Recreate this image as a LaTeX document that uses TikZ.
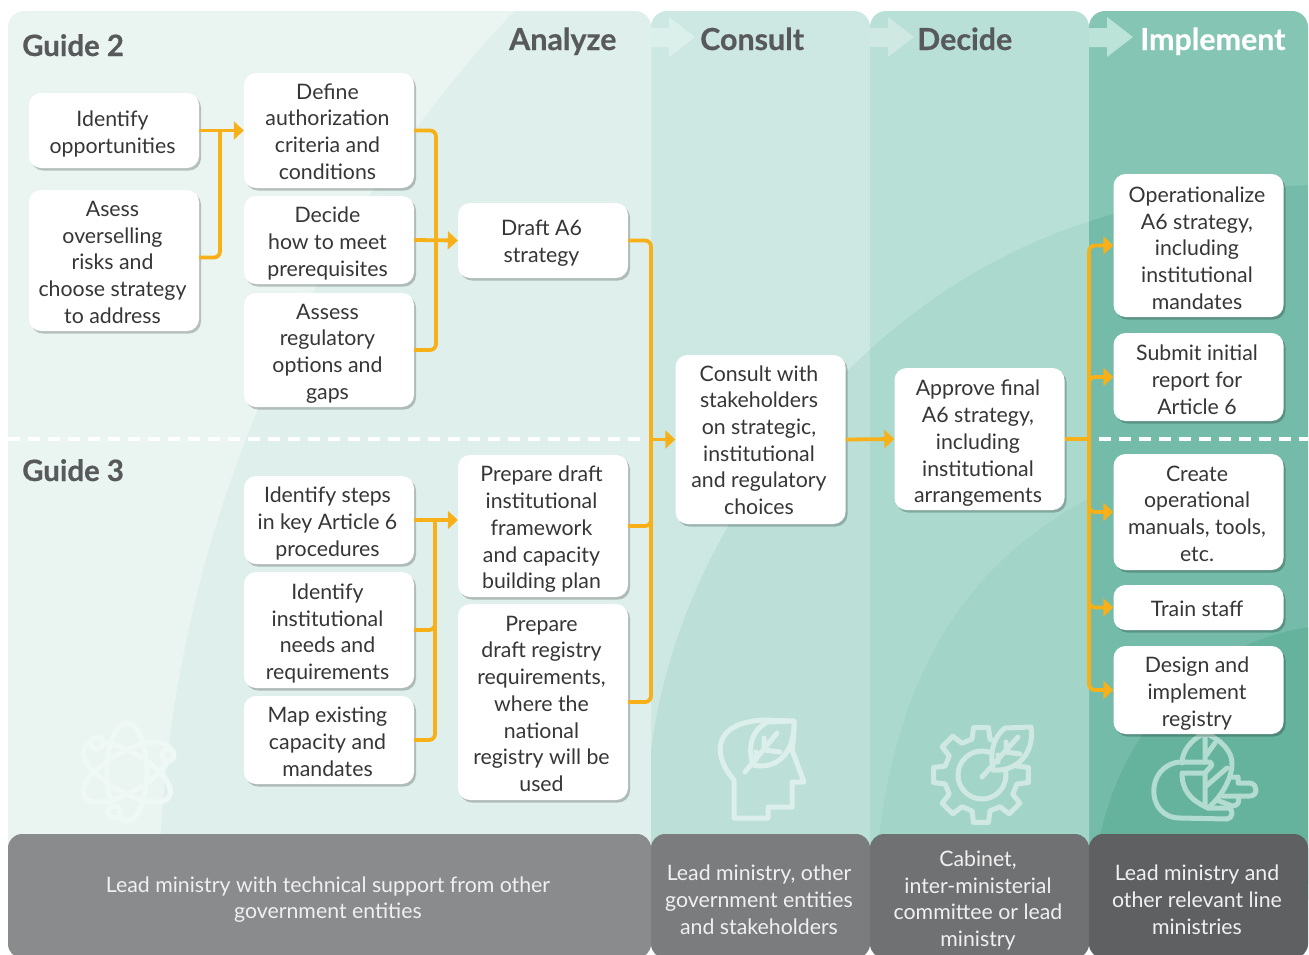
\documentclass[tikz,border=0pt]{standalone}
\usepackage{fontspec}
\setmainfont{Lato}
\newfontfamily\headFont[BoldFeatures={FakeBold=0.5}]{Lato}
\usetikzlibrary{arrows.meta,shadows}

\definecolor{flowOrange}{HTML}{F7B017}
\definecolor{textDark}{HTML}{363636}
\definecolor{headGrey}{HTML}{58595B}
\definecolor{analyzeA}{HTML}{EAF5F2}
\definecolor{analyzeB}{HTML}{DFF0EC}
\definecolor{consultA}{HTML}{CDE8E2}
\definecolor{consultB}{HTML}{BCE0D8}
\definecolor{decideA}{HTML}{B8E0D6}
\definecolor{decideB}{HTML}{ABD9CE}
\definecolor{decideC}{HTML}{A3D4C8}
\definecolor{implementA}{HTML}{84C5B3}
\definecolor{implementB}{HTML}{74BCA9}
\definecolor{implementC}{HTML}{65B29D}
\definecolor{chevConsult}{HTML}{DCF0EB}
\definecolor{chevDecide}{HTML}{CFE9E2}
\definecolor{chevImplement}{HTML}{BCE3D7}
\definecolor{ownerAnalyze}{HTML}{8A8B8D}
\definecolor{ownerConsult}{HTML}{7B7C7E}
\definecolor{ownerDecide}{HTML}{707173}
\definecolor{ownerImplement}{HTML}{5F6062}
\definecolor{iconAtom}{HTML}{EFF8F5}
\definecolor{iconHead}{HTML}{DCEFEA}
\definecolor{iconGear}{HTML}{CFE8E1}
\definecolor{iconHand}{HTML}{B2DCCF}

\newcommand{\lowerText}[2]{\kern-1.5pt\raisebox{-#1pt}[\height][\depth]{\begin{tabular}{@{}c@{}}#2\end{tabular}}\kern1.5pt}

\begin{document}
\begin{tikzpicture}
[x=1pt,y=-1pt,
  nodeDecorate/.style={shape=rectangle,rounded corners=12pt,inner sep=0pt,fill=white,
    text=textDark,minimum width=170pt,
    font=\fontsize{21.3}{26.7}\selectfont,
    drop shadow={shadow xshift=2pt,shadow yshift=-2.5pt,fill=black,opacity=.22}},
  ownerDecorate/.style={shape=rectangle,rounded corners=14pt,inner sep=0pt,
    text=white!94!black,minimum height=124pt,
    font=\fontsize{21.3}{26.7}\selectfont},
  headDecorate/.style={anchor=base west,inner sep=0pt,text=headGrey,
    font=\fontsize{30.4}{32}\selectfont\headFont\bfseries},
  guideDecorate/.style={headDecorate,font=\fontsize{29.4}{32}\selectfont\headFont\bfseries},
  flowLine/.style={flowOrange,line width=3.8pt,rounded corners=6pt},
  flowArrow/.style={flowLine,-{Triangle[length=10pt,width=18pt]}},
  iconLine/.style={line width=5pt,line cap=round,line join=round}]
\useasboundingbox (0,0) rectangle (1309,954);
%% columns
\foreach \colname/\xa/\xb/\tone in {
  analyze/8/651/analyzeA, consult/651/870/consultA,
  decide/870/1089/decideA, implement/1089/1308/implementA}
{
  \fill[\tone,rounded corners=16pt] (\xa,11) rectangle (\xb,900);
}
%% curved bands
\begin{scope}
  \clip[rounded corners=16pt] (8,11) rectangle (651,900);
  \fill[analyzeB] (525,0) .. controls (330,200) and (160,520) .. (159,900) -- (700,900) -- (700,0) -- cycle;
\end{scope}
\foreach \xa/\xb/\tone in {651/870/consultB, 870/1089/decideB, 1089/1308/implementB}
{
  \begin{scope}
    \clip[rounded corners=16pt] (\xa,11) rectangle (\xb,900);
    \fill[\tone] (1320,185) .. controls (1100,190) and (960,260) .. (845,373)
      .. controls (740,480) and (660,620) .. (648,780) -- (648,900) -- (1320,900) -- cycle;
  \end{scope}
}
\begin{scope}
  \clip (870,11) rectangle (1089,900);
  \fill[decideC] (1095,495) .. controls (1000,545) and (885,640) .. (874,900) -- (1095,900) -- cycle;
\end{scope}
\begin{scope}
  \clip (1089,11) rectangle (1308,900);
  \fill[implementC] (1320,626) .. controls (1210,635) and (1100,730) .. (1091,900) -- (1320,900) -- cycle;
\end{scope}
%% arrows on the column heads
\foreach \xa/\tone in {651/chevConsult, 870/chevDecide, 1089/chevImplement}
{
  \fill[\tone,shift={(\xa,0)}] (0,28) -- (18,28) -- (18,17) -- (44,37) -- (18,57) -- (18,47) -- (0,47) -- cycle;
}
%% line between the guides
\foreach \xa/\xb in {8/646, 1099/1308}
{
  \draw[white,line width=4pt,dash pattern=on 12pt off 8pt] (\xa,439) -- (\xb,439);
}
%% icons
\foreach \ang in {30,90,150}
{
  \draw[iconAtom,iconLine,rotate around={\ang:(127,772)}] (127,772) ellipse (49 and 20);
}
\foreach \x/\y in {97/743, 168/755, 114/812}
{
  \draw[iconAtom,iconLine,fill=analyzeA] (\x,\y) circle (6);
}
\draw[iconHead,iconLine] (734,818) -- (734,780) .. controls (712,755) and (712,722) .. (765,720) -- (794,721)
  .. controls (794,735) and (793,745) .. (792,750) -- (804,782) -- (792,782) -- (792,807) -- (768,807) -- (768,818) -- cycle;
\draw[iconHead,iconLine,fill=consultB] (794,721) -- (768,722) .. controls (750,730) and (748,750) .. (753,765)
  .. controls (775,770) and (795,755) .. (794,721) -- cycle;
\draw[iconHead,iconLine] (745,772) -- (777,733) (764,750) -- (764,738) (764,750) -- (780,752) (756,760) -- (756,752);
\draw[iconGear,iconLine,shift={(981,775)}] (-14:37)
  \foreach \ang in {0,45,...,315} { -- (\ang-14:37) -- (\ang-9:48) -- (\ang+9:48) -- (\ang+14:37) } -- cycle;
\draw[iconGear,iconLine] (982,775) circle (24);
\draw[iconGear,iconLine,fill=decideC] (1031,727) -- (1005,728) .. controls (992,738) and (990,755) .. (993,770)
  .. controls (1015,772) and (1035,755) .. (1031,727) -- cycle;
\draw[iconGear,iconLine] (982,777) -- (1018,737) (1006,752) -- (1006,742) (1006,752) -- (1020,754) (998,762) -- (998,755);
\draw[iconHand,iconLine] (1205,733) .. controls (1190,740) and (1182,752) .. (1182,763);
\draw[iconHand,iconLine] (1210,762) -- (1180,762) .. controls (1145,765) and (1145,818) .. (1180,818) -- (1227,819)
  .. controls (1233,819) and (1234,808) .. (1228,808) -- (1208,808)
  .. controls (1190,800) and (1182,790) .. (1182,773) -- (1205,773) -- (1212,765) -- cycle;
\draw[iconHand,iconLine] (1205,733) .. controls (1222,740) and (1232,752) .. (1232,763)
  .. controls (1232,780) and (1220,798) .. (1208,808);
\draw[iconHand,iconLine] (1205,733) -- (1205,762) (1205,773) -- (1205,806) (1205,757) -- (1215,743) (1205,787) -- (1227,768);
\draw[iconHand,iconLine] (1232,777) -- (1238,777) -- (1238,783) -- (1250,783)
  .. controls (1258,784) and (1258,796) .. (1250,796) -- (1223,796)
  (1238,796) .. controls (1240,802) and (1238,806) .. (1232,806) -- (1217,800);
%% nodes or vertices
\foreach \nodename/\x/\y/\h/\dy/\txt in {
  Identify/114/130.5/75/4/{Identify\\opportunities},
  Asess/114/260.5/141/4/{Asess\\overselling\\risks and\\choose strategy\\to address},
  Define/329/130.5/115/3.5/{Define\\authorization\\criteria and\\conditions},
  Decide/329/240/88/4/{Decide\\how to meet\\prerequisites},
  Assess/329/350/114/4/{Assess\\regulatory\\options and\\gaps},
  Draft/543/240.5/75/3.5/{Draft A6\\strategy},
  IdSteps/329/520/88/4/{Identify steps\\in key Article 6\\procedures},
  IdNeeds/329/630/116/4/{Identify\\institutional\\needs and\\requirements},
  MapCapacity/329/740/88/4/{Map existing\\capacity and\\mandates},
  PrepFramework/543/526/142/4/{Prepare draft\\institutional\\framework\\and capacity\\building plan},
  PrepRegistry/543/702/196/4/{Prepare\\draft registry\\requirements,\\where the\\national\\registry will be\\used},
  ConsultStake/760.5/439.5/169/3/{Consult with\\stakeholders\\on strategic,\\institutional\\and regulatory\\choices},
  Approve/979.5/439/142/5/{Approve final\\A6 strategy,\\including\\institutional\\arrangements},
  Operationalize/1198.5/245.5/143/5/{Operationalize\\A6 strategy,\\including\\institutional\\mandates},
  Submit/1198.5/377/88/5/{Submit initial\\report for\\Article 6},
  Create/1198.5/512/116/4/{Create\\operational\\manuals, tools,\\etc.},
  Train/1198.5/607.5/45/4/{Train staff},
  Design/1198.5/690/88/4/{Design and\\implement\\registry}}
{
  \node (\nodename) at (\x,\y) [nodeDecorate,minimum height=\h] {\lowerText{\dy}{\txt}};
}
%% edges or lines
\coordinate (joinIdentify) at (220,130.5);
\coordinate (joinAnalyze) at (436,240);
\coordinate (joinSteps) at (435,520);
\coordinate (joinConsult) at (651,439.5);
\coordinate (joinImplement) at (1089,439);
\draw[flowArrow] (Identify.east) -- (Define.west);
\draw[flowLine] ([yshift=3pt]Asess.east) -| (joinIdentify);
\foreach \startnode in {Define,Assess}
{
  \draw[flowLine] (\startnode.east) -| (joinAnalyze);
}
\draw[flowArrow] (Decide.east) -- (Draft.west);
\draw[flowArrow] (IdSteps.east) -- (IdSteps.east -| PrepFramework.west);
\foreach \startnode in {IdNeeds,MapCapacity}
{
  \draw[flowLine] (\startnode.east) -| (joinSteps);
}
\foreach \startnode in {Draft,PrepFramework,PrepRegistry}
{
  \draw[flowLine] (\startnode.east) -| (joinConsult);
}
\draw[flowArrow] (joinConsult) -- (ConsultStake.west);
\draw[flowArrow] (ConsultStake.east) -- (Approve.west);
\draw[flowLine] (Approve.east) -- (joinImplement);
\foreach \endnode in {Operationalize,Submit,Create,Train,Design}
{
  \draw[flowArrow] (joinImplement) |- (\endnode.west);
}
%% who leads each step
\foreach \nodename/\x/\w/\tone/\dy/\txt in {
  ownerOne/329.5/643/ownerAnalyze/4/{Lead ministry with technical support from other\\government entities},
  ownerTwo/760.5/219/ownerConsult/6/{Lead ministry, other\\government entities\\and stakeholders},
  ownerThree/979.5/219/ownerDecide/5/{Cabinet,\\inter-ministerial\\committee or lead\\ministry},
  ownerFour/1198.5/219/ownerImplement/6/{Lead ministry and\\other relevant line\\ministries}}
{
  \node (\nodename) at (\x,896) [ownerDecorate,fill=\tone,minimum width=\w] {\lowerText{\dy}{\txt}};
}
%% headings
\node (guideTwo) at (22,56) [guideDecorate] {Guide 2};
\node (guideThree) at (22,481) [guideDecorate] {Guide 3};
\node (analyzeHead) at (509,50) [headDecorate] {Analyze};
\node (consultHead) at (700,50) [headDecorate] {Consult};
\node (decideHead) at (917,50) [headDecorate] {Decide};
\node (implementHead) at (1140,50) [headDecorate,text=white] {Implement};
\end{tikzpicture}
\end{document}
